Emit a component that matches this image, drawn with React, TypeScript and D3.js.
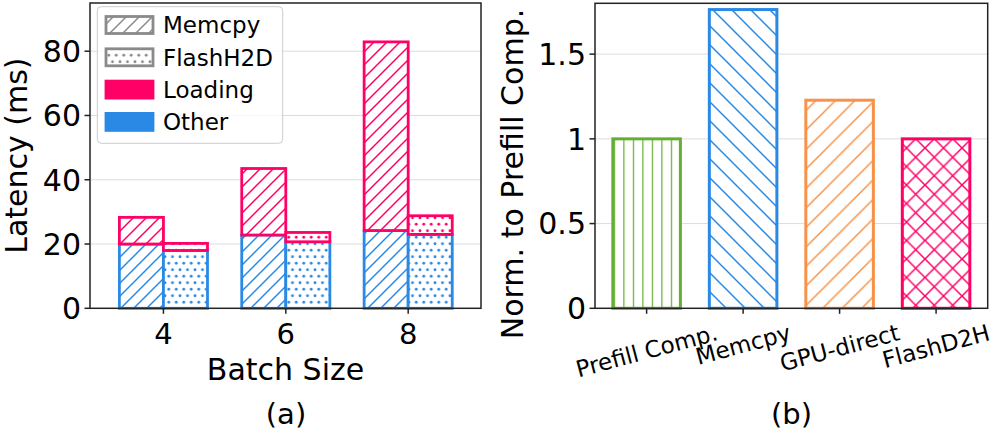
import * as d3 from "d3";
import React, { useEffect, useRef } from "react";

// (a) latency breakdown per batch size
const batchSizes = [4, 6, 8];
const memcpyOther = [20.0, 22.8, 24.2];
const memcpyLoading = [8.3, 20.7, 58.7];
const flashOther = [18.0, 20.7, 23.0];
const flashLoading = [2.2, 2.9, 5.8];
const leftTicks = [0, 20, 40, 60, 80];
const legendItems = ["Memcpy", "FlashH2D", "Loading", "Other"];

// (b) normalized latency
const methods = ["Prefill Comp.", "Memcpy", "GPU-direct", "FlashD2H"];
const normLatency = [1.0, 1.763, 1.228, 1.0];
const rightTicks = [0, 0.5, 1, 1.5];
const rightTickLabels = ["0", "0.5", "1", "1.5"];

const PINK = "#ff0066";
const BLUE = "#2a89e5";
const GREEN = "#64ae32";
const ORANGE = "#f7924a";
const GRAY = "#8a8a8a";
const FONT = "DejaVu Sans";

function App() {
    const svgRef = useRef<SVGSVGElement>(null);

    useEffect(() => {
        document.body.style.margin = "0";
        const svg = d3.select(svgRef.current);
        svg.selectAll("*").remove();
        const defs = svg.append("defs");

        const diag = (id: string, color: string, s: number, kind: string) => {
            const p = defs.append("pattern").attr("id", id)
                .attr("patternUnits", "userSpaceOnUse")
                .attr("width", s).attr("height", s);
            p.append("rect").attr("width", s).attr("height", s).attr("fill", "white");
            const fwd = `M${-s / 4},${s / 4}l${s / 2},${-s / 2}M0,${s}l${s},${-s}M${(3 * s) / 4},${(5 * s) / 4}l${s / 2},${-s / 2}`;
            const back = `M${-s / 4},${(3 * s) / 4}l${s / 2},${s / 2}M0,0l${s},${s}M${(3 * s) / 4},${-s / 4}l${s / 2},${s / 2}`;
            const d = kind === "/" ? fwd : kind === "\\" ? back : fwd + back;
            p.append("path").attr("d", d).attr("stroke", color).attr("stroke-width", 1.5).attr("fill", "none");
        };
        const dots = (id: string, color: string) => {
            const dx = 7.5, dy = 6.5;
            const p = defs.append("pattern").attr("id", id)
                .attr("patternUnits", "userSpaceOnUse")
                .attr("width", dx).attr("height", dy * 2);
            p.append("rect").attr("width", dx).attr("height", dy * 2).attr("fill", "white");
            [[dx / 2, dy / 2], [0, dy * 1.5], [dx, dy * 1.5]].forEach(([cx, cy]) =>
                p.append("circle").attr("cx", cx).attr("cy", cy).attr("r", 1.4).attr("fill", color));
        };
        const vlines = (id: string, color: string, s: number, x0: number) => {
            const p = defs.append("pattern").attr("id", id)
                .attr("patternUnits", "userSpaceOnUse")
                .attr("x", x0).attr("width", s).attr("height", s);
            p.append("rect").attr("width", s).attr("height", s).attr("fill", "white");
            p.append("line").attr("x1", 0).attr("x2", 0).attr("y1", 0).attr("y2", s)
                .attr("stroke", color).attr("stroke-width", 2.4);
        };

        diag("memBlue", BLUE, 13, "/");
        diag("memPink", PINK, 13, "/");
        diag("memGray", GRAY, 13, "/");
        dots("dotBlue", BLUE);
        dots("dotPink", PINK);
        dots("dotGray", GRAY);
        vlines("vGreen", GREEN, 9.5, 623.3);
        diag("bBlue", BLUE, 19, "\\");
        diag("fOrange", ORANGE, 19.5, "/");
        diag("xPink", PINK, 18.5, "x");

        // ---------- (a) ----------
        const L = { left: 90, right: 481, top: 3, bottom: 308.3 };
        const x = d3.scaleLinear().domain([2.8, 9.19]).range([L.left, L.right]);
        const y = d3.scaleLinear().domain([0, 95]).range([L.bottom, L.top]);
        const w = 0.72;
        const ga = svg.append("g");

        ga.selectAll(".grid").data(leftTicks.slice(1)).join("line")
            .attr("x1", L.left).attr("x2", L.right)
            .attr("y1", (d) => y(d)).attr("y2", (d) => y(d))
            .attr("stroke", "#dcdcdc").attr("stroke-width", 1);

        const bar = (g: any, x0: number, v0: number, v1: number, fill: string, stroke: string) =>
            g.append("rect")
                .attr("x", x(x0)).attr("width", x(x0 + w) - x(x0))
                .attr("y", y(v1)).attr("height", y(v0) - y(v1))
                .attr("fill", fill).attr("stroke", stroke).attr("stroke-width", 2.8);

        batchSizes.forEach((b, i) => {
            bar(ga, b - w, 0, memcpyOther[i], "url(#memBlue)", BLUE);
            bar(ga, b, 0, flashOther[i], "url(#dotBlue)", BLUE);
        });
        batchSizes.forEach((b, i) => {
            bar(ga, b - w, memcpyOther[i], memcpyOther[i] + memcpyLoading[i], "url(#memPink)", PINK);
            bar(ga, b, flashOther[i], flashOther[i] + flashLoading[i], "url(#dotPink)", PINK);
        });

        ga.append("rect").attr("x", L.left).attr("y", L.top)
            .attr("width", L.right - L.left).attr("height", L.bottom - L.top)
            .attr("fill", "none").attr("stroke", "#222").attr("stroke-width", 1.5);

        leftTicks.forEach((t) => {
            ga.append("line").attr("x1", L.left - 5.5).attr("x2", L.left)
                .attr("y1", y(t)).attr("y2", y(t)).attr("stroke", "#222").attr("stroke-width", 1.5);
            ga.append("text").attr("x", L.left - 9).attr("y", y(t)).attr("dy", "0.36em")
                .attr("text-anchor", "end").attr("font-family", FONT).attr("font-size", 30)
                .text(t);
        });
        batchSizes.forEach((b) => {
            ga.append("line").attr("x1", x(b)).attr("x2", x(b))
                .attr("y1", L.bottom).attr("y2", L.bottom + 5.5).attr("stroke", "#222").attr("stroke-width", 1.5);
            ga.append("text").attr("x", x(b)).attr("y", 343.5)
                .attr("text-anchor", "middle").attr("font-family", FONT).attr("font-size", 29)
                .text(b);
        });
        ga.append("text").attr("x", (L.left + L.right) / 2).attr("y", 380)
            .attr("text-anchor", "middle").attr("font-family", FONT).attr("font-size", 30)
            .text("Batch Size");
        ga.append("text").attr("transform", `translate(27,${(L.top + L.bottom) / 2}) rotate(-90)`)
            .attr("text-anchor", "middle").attr("font-family", FONT).attr("font-size", 30)
            .text("Latency (ms)");
        ga.append("text").attr("x", 286).attr("y", 424)
            .attr("text-anchor", "middle").attr("font-family", FONT).attr("font-size", 29)
            .text("(a)");

        // legend
        const lg = ga.append("g");
        lg.append("rect").attr("x", 97.3).attr("y", 6.7).attr("width", 185.4).attr("height", 136.6)
            .attr("rx", 4).attr("fill", "white").attr("fill-opacity", 0.8)
            .attr("stroke", "#cccccc").attr("stroke-width", 1);
        const legFill = ["url(#memGray)", "url(#dotGray)", PINK, BLUE];
        const legStroke = [GRAY, GRAY, PINK, BLUE];
        legendItems.forEach((name, i) => {
            const cy = 25 + i * 32.3;
            lg.append("rect").attr("x", 106).attr("y", cy - 8.5).attr("width", 47).attr("height", 17)
                .attr("fill", legFill[i]).attr("stroke", legStroke[i]).attr("stroke-width", 2.8);
            lg.append("text").attr("x", 163).attr("y", cy).attr("dy", "0.36em")
                .attr("font-family", FONT).attr("font-size", 23).text(name);
        });

        // ---------- (b) ----------
        const R = { left: 595, right: 987.7, top: 3.3, bottom: 308.3 };
        const xr = d3.scaleLinear().domain([-0.535, 3.535]).range([R.left, R.right]);
        const yr = d3.scaleLinear().domain([0, 1.8]).range([R.bottom, R.top]);
        const gb = svg.append("g");

        gb.selectAll(".grid").data(rightTicks.slice(1)).join("line")
            .attr("x1", R.left).attr("x2", R.right)
            .attr("y1", (d) => yr(d)).attr("y2", (d) => yr(d))
            .attr("stroke", "#dcdcdc").attr("stroke-width", 1);

        const rFill = ["url(#vGreen)", "url(#bBlue)", "url(#fOrange)", "url(#xPink)"];
        const rStroke = [GREEN, BLUE, ORANGE, PINK];
        const bw = 0.7;
        normLatency.forEach((v, i) => {
            gb.append("rect")
                .attr("x", xr(i - bw / 2)).attr("width", xr(i + bw / 2) - xr(i - bw / 2))
                .attr("y", yr(v)).attr("height", yr(0) - yr(v))
                .attr("fill", rFill[i]).attr("stroke", rStroke[i]).attr("stroke-width", 3);
        });

        gb.append("rect").attr("x", R.left).attr("y", R.top)
            .attr("width", R.right - R.left).attr("height", R.bottom - R.top)
            .attr("fill", "none").attr("stroke", "#222").attr("stroke-width", 1.5);

        rightTicks.forEach((t, i) => {
            gb.append("line").attr("x1", R.left - 5.5).attr("x2", R.left)
                .attr("y1", yr(t)).attr("y2", yr(t)).attr("stroke", "#222").attr("stroke-width", 1.5);
            gb.append("text").attr("x", R.left - 9).attr("y", yr(t)).attr("dy", "0.36em")
                .attr("text-anchor", "end").attr("font-family", FONT).attr("font-size", 30)
                .text(rightTickLabels[i]);
        });
        const rot = (15 * Math.PI) / 180;
        const fs = 23;
        methods.forEach((m, i) => {
            gb.append("line").attr("x1", xr(i)).attr("x2", xr(i))
                .attr("y1", R.bottom).attr("y2", R.bottom + 5.5).attr("stroke", "#222").attr("stroke-width", 1.5);
            const t = gb.append("text").attr("text-anchor", "middle").attr("dy", "0.35em")
                .attr("font-family", FONT).attr("font-size", fs).text(m);
            const len = (t.node() as SVGTextElement).getComputedTextLength();
            const h = fs * 1.164;
            const H = len * Math.sin(rot) + h * Math.cos(rot);
            t.attr("transform", `translate(${xr(i)},${319 + H / 2}) rotate(-15)`);
        });
        gb.append("text").attr("transform", `translate(523,174) rotate(-90)`)
            .attr("text-anchor", "middle").attr("font-family", FONT).attr("font-size", 30)
            .text("Norm. to Prefill Comp.");
        gb.append("text").attr("x", 791.5).attr("y", 424)
            .attr("text-anchor", "middle").attr("font-family", FONT).attr("font-size", 29)
            .text("(b)");
    }, []);

    return <svg ref={svgRef} width={996} height={438} style={{ display: "block", background: "white" }}></svg>;
}

export default App;
